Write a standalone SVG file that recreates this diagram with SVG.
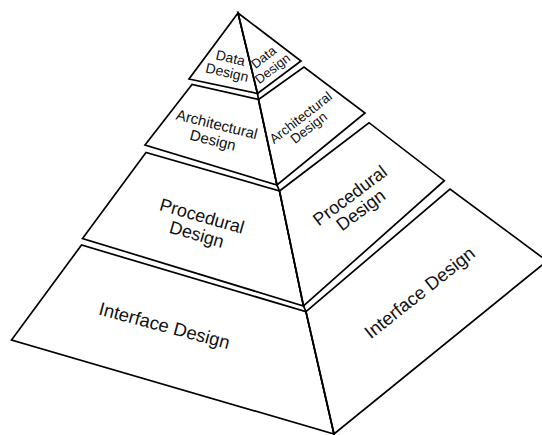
<svg xmlns="http://www.w3.org/2000/svg" width="542" height="435" viewBox="0 0 542 435">
<style>
.p{fill:#fff;stroke:#000;stroke-width:1.7;stroke-linejoin:miter}
.t{font-family:"Liberation Sans",Arial,sans-serif;fill:#111;text-anchor:middle}
</style>
<rect width="542" height="435" fill="#fff"/>
<g id="data-left">
<path class="p" d="M238,13 L189,79 L257.5,93.5 Z"/>
<g transform="translate(228.7,65.7) rotate(13)"><text class="t" font-size="14" y="-3.2">Data</text><text class="t" font-size="14" y="11.75">Design</text></g>
</g>
<g id="data-right">
<path class="p" d="M238,13 L301,61 L257.5,93.5 Z"/>
<g transform="translate(268.3,63.3) rotate(-38)"><text class="t" font-size="13" y="-3.3">Data</text><text class="t" font-size="13" y="11.25">Design</text></g>
</g>
<g id="arch-left">
<path class="p" d="M192,84.5 L145,145 L277,185 L258.5,99.5 Z"/>
<g transform="translate(214.8,132.8) rotate(14)"><text class="t" font-size="15" y="-3.6">Architectural</text><text class="t" font-size="15" y="12.75">Design</text></g>
</g>
<g id="arch-right">
<path class="p" d="M258.5,99.5 L304,67 L365,113 L277,185 Z"/>
<g transform="translate(305,123) rotate(-38)"><text class="t" font-size="13.5" y="-2.35">Architectural</text><text class="t" font-size="13.5" y="10.65">Design</text></g>
</g>
<g id="proc-left">
<path class="p" d="M146,152.5 L82.5,238.5 L303.5,306 L279.5,191 Z"/>
<g transform="translate(199.2,225.8) rotate(16)"><text class="t" font-size="18" y="-4">Procedural</text><text class="t" font-size="18" y="15">Design</text></g>
</g>
<g id="proc-right">
<path class="p" d="M279.5,191 L369,122.7 L444.3,180.7 L303.5,306 Z"/>
<g transform="translate(355.7,203.3) rotate(-37)"><text class="t" font-size="18" y="-3.5">Procedural</text><text class="t" font-size="18" y="14.5">Design</text></g>
</g>
<g id="interface-left">
<path class="p" d="M81.5,245 L11.5,340 L334,434 L306,311.7 Z"/>
<g transform="translate(164,327.3) rotate(15)"><text class="t" font-size="18.5" y="4.6">Interface Design</text></g>
</g>
<g id="interface-right">
<path class="p" d="M306,311.7 L450,189 L547,261 L334,434 Z"/>
<g transform="translate(420.7,294) rotate(-38.5)"><text class="t" font-size="18.5" y="4.6">Interface Design</text></g>
</g>
<g id="connectors">
<polyline fill="none" stroke="#000" stroke-width="1.7" points="238,13 257.5,93.5 258.5,99.5 277,185 279.5,191 303.5,306 306,311.7 334,434"/>
</g>
</svg>
